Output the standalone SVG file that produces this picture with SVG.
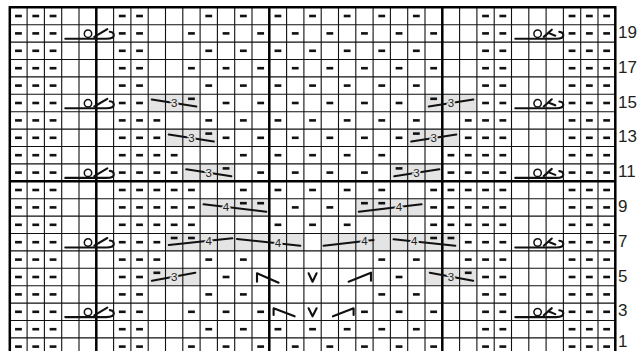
<svg xmlns="http://www.w3.org/2000/svg" width="644" height="351" viewBox="0 0 644 351">
<style>
.g{fill:#e4e4e4}
.thin{stroke:#111;stroke-width:1.1;fill:none}
.thick{stroke:#000;stroke-width:2.5;fill:none}
.sym{stroke:#111;stroke-width:2.1;fill:none;stroke-linecap:round;stroke-linejoin:round}
.num{font-family:"Liberation Sans",Arial,sans-serif;font-size:11.5px;fill:#222;text-anchor:middle;stroke:#e4e4e4;stroke-width:3;paint-order:stroke}
.lab{font-family:"Liberation Sans",Arial,sans-serif;font-size:17px;fill:#231f20}
</style>
<defs>
<rect id="d" x="-3.4" y="-1.3" width="6.8" height="2.6" fill="#111"/>
<g id="edge"><use href="#d" x="18.15"/><use href="#d" x="35.45"/><use href="#d" x="52.75"/><use href="#d" x="571.75"/><use href="#d" x="589.05"/><use href="#d" x="606.35"/></g>
<g id="rA"><use href="#edge"/><use href="#d" x="121.95"/><use href="#d" x="139.25"/><use href="#d" x="208.45"/><use href="#d" x="243.05"/><use href="#d" x="277.65"/><use href="#d" x="312.25"/><use href="#d" x="346.85"/><use href="#d" x="381.45"/><use href="#d" x="416.05"/><use href="#d" x="485.25"/><use href="#d" x="502.55"/></g>
<g id="rB"><use href="#edge"/><use href="#d" x="121.95"/><use href="#d" x="139.25"/><use href="#d" x="191.15"/><use href="#d" x="225.75"/><use href="#d" x="260.35"/><use href="#d" x="294.95"/><use href="#d" x="329.55"/><use href="#d" x="364.15"/><use href="#d" x="398.75"/><use href="#d" x="433.35"/><use href="#d" x="485.25"/><use href="#d" x="502.55"/></g>
<g id="oL" class="sym"><path d="M65 14H106Q113.5 14 113.5 10.5Q113.5 7.2 109.5 7"/><circle cx="87.7" cy="9" r="3.7" stroke-width="1.5"/><path d="M94 12.2L107 4.5"/></g>
<g id="oR" class="sym"><path d="M515 14H556Q563 14 563 10.5Q563 7.5 559 7.2"/><circle cx="537.3" cy="9" r="3.7" stroke-width="1.5"/><path d="M543.5 12.2L551.5 5M548 8.2L555 11"/></g>
</defs>
<rect width="644" height="351" fill="#fff"/>
<g id="chart" transform="translate(0.3,0)">
<g id="shading">
<rect class="g" x="147.9" y="94.3" width="51.9" height="17.4"/>
<rect class="g" x="424.7" y="94.3" width="51.9" height="17.4"/>
<rect class="g" x="165.2" y="129.1" width="51.9" height="17.4"/>
<rect class="g" x="407.4" y="129.1" width="51.9" height="17.4"/>
<rect class="g" x="182.5" y="163.9" width="51.9" height="17.4"/>
<rect class="g" x="390.1" y="163.9" width="51.9" height="17.4"/>
<rect class="g" x="199.8" y="198.7" width="69.2" height="17.4"/>
<rect class="g" x="355.5" y="198.7" width="69.2" height="17.4"/>
<rect class="g" x="165.2" y="233.5" width="138.4" height="17.4"/>
<rect class="g" x="320.9" y="233.5" width="138.4" height="17.4"/>
<rect class="g" x="147.9" y="268.3" width="51.9" height="17.4"/>
<rect class="g" x="424.7" y="268.3" width="51.9" height="17.4"/>
</g>
<g id="grid">
<path class="thin" d="M9.5 24.7H615M9.5 42.1H615M9.5 59.5H615M9.5 76.9H615M9.5 94.3H615M9.5 111.7H615M9.5 129.1H615M9.5 146.5H615M9.5 163.9H615M9.5 198.7H615M9.5 216.1H615M9.5 233.5H615M9.5 250.9H615M9.5 268.3H615M9.5 285.7H615M9.5 303.1H615M9.5 320.5H615M9.5 337.9H615"/>
<path class="thin" d="M26.8 7.3V351M44.1 7.3V351M61.4 7.3V351M78.7 7.3V351M113.3 7.3V351M130.6 7.3V351M147.9 7.3V351M165.2 7.3V351M182.5 7.3V351M199.8 7.3V351M217.1 7.3V351M234.4 7.3V351M251.7 7.3V351M286.3 7.3V351M303.6 7.3V351M320.9 7.3V351M338.2 7.3V351M355.5 7.3V351M372.8 7.3V351M390.1 7.3V351M407.4 7.3V351M424.7 7.3V351M459.3 7.3V351M476.6 7.3V351M493.9 7.3V351M511.2 7.3V351M528.5 7.3V351M545.8 7.3V351M563.1 7.3V351M580.4 7.3V351M597.7 7.3V351"/>
<path class="thick" d="M9.5 7.3V351M96 7.3V351M269 7.3V351M442 7.3V351M615 7.3V351M8.3 7.3H616.2M9.5 181.3H615"/>
</g>
<g id="purls">
<use href="#rA" y="16"/><use href="#rB" y="33.4"/><use href="#rA" y="50.8"/><use href="#rB" y="68.2"/><use href="#rA" y="85.6"/>
<use href="#rA" y="329.2"/><use href="#rB" y="346.6"/>
<g transform="translate(0,103)"><use href="#edge"/><use href="#d" x="121.95"/><use href="#d" x="139.25"/><use href="#d" x="225.75"/><use href="#d" x="260.35"/><use href="#d" x="294.95"/><use href="#d" x="329.55"/><use href="#d" x="364.15"/><use href="#d" x="398.75"/><use href="#d" x="485.25"/><use href="#d" x="502.55"/></g>
<g transform="translate(0,120.4)"><use href="#edge"/><use href="#d" x="121.95"/><use href="#d" x="139.25"/><use href="#d" x="156.55"/><use href="#d" x="208.45"/><use href="#d" x="243.05"/><use href="#d" x="277.65"/><use href="#d" x="312.25"/><use href="#d" x="346.85"/><use href="#d" x="381.45"/><use href="#d" x="416.05"/><use href="#d" x="467.95"/><use href="#d" x="485.25"/><use href="#d" x="502.55"/></g>
<g transform="translate(0,137.8)"><use href="#edge"/><use href="#d" x="121.95"/><use href="#d" x="139.25"/><use href="#d" x="156.55"/><use href="#d" x="225.75"/><use href="#d" x="260.35"/><use href="#d" x="294.95"/><use href="#d" x="329.55"/><use href="#d" x="364.15"/><use href="#d" x="398.75"/><use href="#d" x="467.95"/><use href="#d" x="485.25"/><use href="#d" x="502.55"/></g>
<g transform="translate(0,155.2)"><use href="#edge"/><use href="#d" x="121.95"/><use href="#d" x="139.25"/><use href="#d" x="156.55"/><use href="#d" x="173.85"/><use href="#d" x="243.05"/><use href="#d" x="277.65"/><use href="#d" x="312.25"/><use href="#d" x="346.85"/><use href="#d" x="381.45"/><use href="#d" x="450.65"/><use href="#d" x="467.95"/><use href="#d" x="485.25"/><use href="#d" x="502.55"/></g>
<g transform="translate(0,172.6)"><use href="#edge"/><use href="#d" x="121.95"/><use href="#d" x="139.25"/><use href="#d" x="156.55"/><use href="#d" x="173.85"/><use href="#d" x="260.35"/><use href="#d" x="294.95"/><use href="#d" x="329.55"/><use href="#d" x="364.15"/><use href="#d" x="450.65"/><use href="#d" x="467.95"/><use href="#d" x="485.25"/><use href="#d" x="502.55"/></g>
<g transform="translate(0,190)"><use href="#edge"/><use href="#d" x="121.95"/><use href="#d" x="139.25"/><use href="#d" x="156.55"/><use href="#d" x="173.85"/><use href="#d" x="191.15"/><use href="#d" x="243.05"/><use href="#d" x="277.65"/><use href="#d" x="312.25"/><use href="#d" x="346.85"/><use href="#d" x="381.45"/><use href="#d" x="433.35"/><use href="#d" x="450.65"/><use href="#d" x="467.95"/><use href="#d" x="485.25"/><use href="#d" x="502.55"/></g>
<g transform="translate(0,207.4)"><use href="#edge"/><use href="#d" x="121.95"/><use href="#d" x="139.25"/><use href="#d" x="156.55"/><use href="#d" x="173.85"/><use href="#d" x="191.15"/><use href="#d" x="294.95"/><use href="#d" x="329.55"/><use href="#d" x="433.35"/><use href="#d" x="450.65"/><use href="#d" x="467.95"/><use href="#d" x="485.25"/><use href="#d" x="502.55"/></g>
<g transform="translate(0,224.8)"><use href="#edge"/><use href="#d" x="121.95"/><use href="#d" x="139.25"/><use href="#d" x="156.55"/><use href="#d" x="173.85"/><use href="#d" x="191.15"/><use href="#d" x="277.65"/><use href="#d" x="312.25"/><use href="#d" x="346.85"/><use href="#d" x="433.35"/><use href="#d" x="450.65"/><use href="#d" x="467.95"/><use href="#d" x="485.25"/><use href="#d" x="502.55"/></g>
<g transform="translate(0,242.2)"><use href="#edge"/><use href="#d" x="121.95"/><use href="#d" x="139.25"/><use href="#d" x="156.55"/><use href="#d" x="467.95"/><use href="#d" x="485.25"/><use href="#d" x="502.55"/></g>
<g transform="translate(0,259.6)"><use href="#edge"/><use href="#d" x="121.95"/><use href="#d" x="139.25"/><use href="#d" x="156.55"/><use href="#d" x="208.45"/><use href="#d" x="243.05"/><use href="#d" x="381.45"/><use href="#d" x="416.05"/><use href="#d" x="467.95"/><use href="#d" x="485.25"/><use href="#d" x="502.55"/></g>
<g transform="translate(0,277)"><use href="#edge"/><use href="#d" x="121.95"/><use href="#d" x="139.25"/><use href="#d" x="225.75"/><use href="#d" x="398.75"/><use href="#d" x="485.25"/><use href="#d" x="502.55"/></g>
<g transform="translate(0,294.4)"><use href="#edge"/><use href="#d" x="121.95"/><use href="#d" x="139.25"/><use href="#d" x="208.45"/><use href="#d" x="243.05"/><use href="#d" x="381.45"/><use href="#d" x="416.05"/><use href="#d" x="485.25"/><use href="#d" x="502.55"/></g>
<g transform="translate(0,311.8)"><use href="#edge"/><use href="#d" x="121.95"/><use href="#d" x="139.25"/><use href="#d" x="191.15"/><use href="#d" x="225.75"/><use href="#d" x="260.35"/><use href="#d" x="364.15"/><use href="#d" x="398.75"/><use href="#d" x="433.35"/><use href="#d" x="485.25"/><use href="#d" x="502.55"/></g>
</g>
<g id="cable-purls">
<use href="#d" x="191.15" y="98.8"/><use href="#d" x="433.35" y="98.8"/>
<use href="#d" x="208.45" y="133.6"/><use href="#d" x="416.05" y="133.6"/>
<use href="#d" x="225.75" y="168.4"/><use href="#d" x="398.75" y="168.4"/>
<use href="#d" x="243.05" y="203.2"/><use href="#d" x="260.35" y="203.2"/><use href="#d" x="364.15" y="203.2"/><use href="#d" x="381.45" y="203.2"/>
<use href="#d" x="173.85" y="238"/><use href="#d" x="191.15" y="238"/><use href="#d" x="433.35" y="238"/><use href="#d" x="450.65" y="238"/>
<use href="#d" x="156.55" y="272.8"/><use href="#d" x="467.95" y="272.8"/>
</g>
<g id="cables">
<path class="sym" d="M151.5 99.5L196 106.5M428.5 106.5L473 99.5M168.5 134.5L213.5 141.5M411 141.5L456 134.5M186 169.3L231 176.3M394 176.3L439 169.3M203.3 204.3L266 211.7M358.5 211.7L421.2 204.3M168.5 245L232 238.3M236.7 239L300 245.7M323.3 245.7L373.3 240M393.3 239.3L455 245.7M151.7 280.7L195 272.7M429.5 272.7L472.8 280.7"/>
<text class="num" x="173.85" y="107">3</text><text class="num" x="450.65" y="107">3</text>
<text class="num" x="191.15" y="142">3</text><text class="num" x="433.35" y="142">3</text>
<text class="num" x="208.45" y="176.8">3</text><text class="num" x="416.05" y="176.8">3</text>
<text class="num" x="225.75" y="211">4</text><text class="num" x="398.75" y="211">4</text>
<text class="num" x="208.45" y="244.8">4</text><text class="num" x="277.65" y="247.3">4</text><text class="num" x="364.15" y="245">4</text><text class="num" x="414" y="245.4">4</text>
<text class="num" x="173.85" y="280.6">3</text><text class="num" x="450.65" y="280.6">3</text>
</g>
<g id="twists">
<use href="#oL" y="24.7"/><use href="#oR" y="24.7"/>
<use href="#oL" y="94.3"/><use href="#oR" y="94.3"/>
<use href="#oL" y="163.9"/><use href="#oR" y="163.9"/>
<use href="#oL" y="233.5"/><use href="#oR" y="233.5"/>
<use href="#oL" y="303.1"/><use href="#oR" y="303.1"/>
</g>
<g id="decreases" class="sym">
<path d="M256.7 281.7V273.3L278.3 282.7M308.3 273.3L312.25 281.7L316.3 273.3M348.3 281.7L370.7 272.7V280.7"/>
<path d="M273.3 315V308.3L294.3 316.3M308.3 308.3L312.25 316.3L316.3 308.3M332.7 316.3L353.3 308.3V315"/>
</g>
</g>
<g id="row-numbers">
<text class="lab" x="618" y="38">19</text>
<text class="lab" x="618" y="72.8">17</text>
<text class="lab" x="618" y="107.6">15</text>
<text class="lab" x="618" y="142.4">13</text>
<text class="lab" x="618" y="177.2">11</text>
<text class="lab" x="618" y="212">9</text>
<text class="lab" x="618" y="246.8">7</text>
<text class="lab" x="618" y="281.6">5</text>
<text class="lab" x="618" y="316.4">3</text>
<text class="lab" x="618" y="347">1</text>
</g>
</svg>
